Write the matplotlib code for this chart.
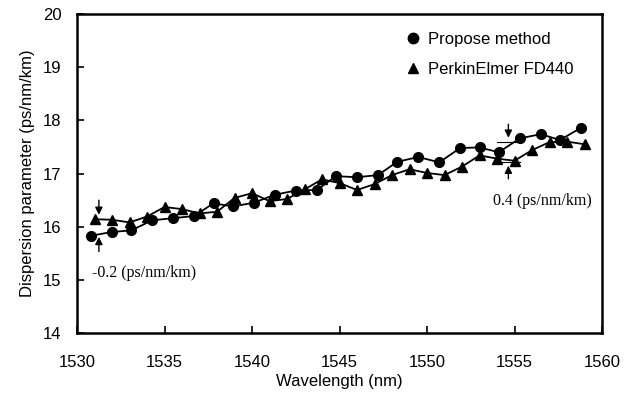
import matplotlib
matplotlib.use('Agg')
from matplotlib import pyplot as plt

# 数据：两种方法测得的色散参数
wl_propose = [1530.8, 1532.0, 1533.1, 1534.3, 1535.5, 1536.7, 1537.8, 1538.9, 1540.1,
              1541.3, 1542.5, 1543.7, 1544.8, 1546.0, 1547.2, 1548.3, 1549.5, 1550.7,
              1551.9, 1553.0, 1554.1, 1555.3, 1556.5, 1557.6, 1558.8]
d_propose = [15.83, 15.90, 15.93, 16.12, 16.16, 16.20, 16.44, 16.38, 16.45,
             16.60, 16.68, 16.69, 16.95, 16.93, 16.97, 17.22, 17.31, 17.21,
             17.48, 17.49, 17.40, 17.66, 17.74, 17.63, 17.86]

wl_fd440 = [1531, 1532, 1533, 1534, 1535, 1536, 1537, 1538, 1539, 1540,
            1541, 1542, 1543, 1544, 1545, 1546, 1547, 1548, 1549, 1550,
            1551, 1552, 1553, 1554, 1555, 1556, 1557, 1558, 1559]
d_fd440 = [16.14, 16.13, 16.08, 16.19, 16.37, 16.33, 16.25, 16.28, 16.54, 16.63,
           16.48, 16.52, 16.70, 16.89, 16.82, 16.69, 16.80, 16.97, 17.08, 17.01,
           16.97, 17.13, 17.34, 17.28, 17.24, 17.44, 17.59, 17.60, 17.55]

xticks = [1530, 1535, 1540, 1545, 1550, 1555, 1560]
yticks = [14, 15, 16, 17, 18, 19, 20]

plt.rcParams['font.family'] = ['Liberation Sans', 'DejaVu Sans']

fig = plt.figure(figsize=(6.35, 4.01), dpi=100)
ax = fig.add_axes([77 / 635, 1 - 333 / 401, 525 / 635, 319 / 401])

ax.plot(wl_propose, d_propose, c='black', lw=1.3, marker='o', ms=7)
ax.plot(wl_fd440, d_fd440, c='black', lw=1.3, marker='^', ms=7)

# 图例只有标记
ax.plot([], [], 'ko', ms=7.5, label='Propose method')
ax.plot([], [], 'k^', ms=7.5, label='PerkinElmer FD440')
handles, labels = ax.get_legend_handles_labels()
ax.legend(handles, labels, loc='upper right', bbox_to_anchor=(0.975, 0.99),
          frameon=False, fontsize=12, handletextpad=0.3, labelspacing=0.9,
          handlelength=1.2)

# 左边的差值标注 -0.2
arrow = dict(arrowstyle='-|>', color='black', lw=1, mutation_scale=11)
ax.annotate('', xy=(1531.25, 16.17), xytext=(1531.25, 16.55), arrowprops=arrow)
ax.annotate('', xy=(1531.25, 15.86), xytext=(1531.25, 15.48), arrowprops=arrow)
ax.text(1530.85, 15.13, '-0.2 (ps/nm/km)', family='Liberation Serif',
        fontsize=11.5, va='center', ha='left')

# 右边的差值标注 0.4
ax.annotate('', xy=(1554.65, 17.62), xytext=(1554.65, 17.98), arrowprops=arrow)
ax.annotate('', xy=(1554.65, 17.20), xytext=(1554.65, 16.85), arrowprops=arrow)
ax.plot([1554.0, 1555.3], [17.59, 17.59], c='black', lw=0.8)
ax.plot([1554.0, 1555.3], [17.22, 17.22], c='black', lw=0.8)
ax.text(1559.4, 16.49, '0.4 (ps/nm/km)', family='Liberation Serif',
        fontsize=11.5, va='center', ha='right')

ax.set_xlim(1530, 1560)
ax.set_ylim(14, 20)
ax.set_xticks(xticks)
ax.set_yticks(yticks)
ax.tick_params(axis='both', which='major', labelsize=12, direction='in',
               length=5, width=1.2)
ax.tick_params(axis='x', pad=16)
ax.tick_params(axis='y', pad=11)
for sp in ax.spines.values():
    sp.set_linewidth(1.8)

ax.set_xlabel('Wavelength (nm)', fontsize=12, labelpad=3)
ax.set_ylabel('Dispersion parameter (ps/nm/km)', fontsize=12, labelpad=6)

fig.savefig('out.png', dpi=100)
